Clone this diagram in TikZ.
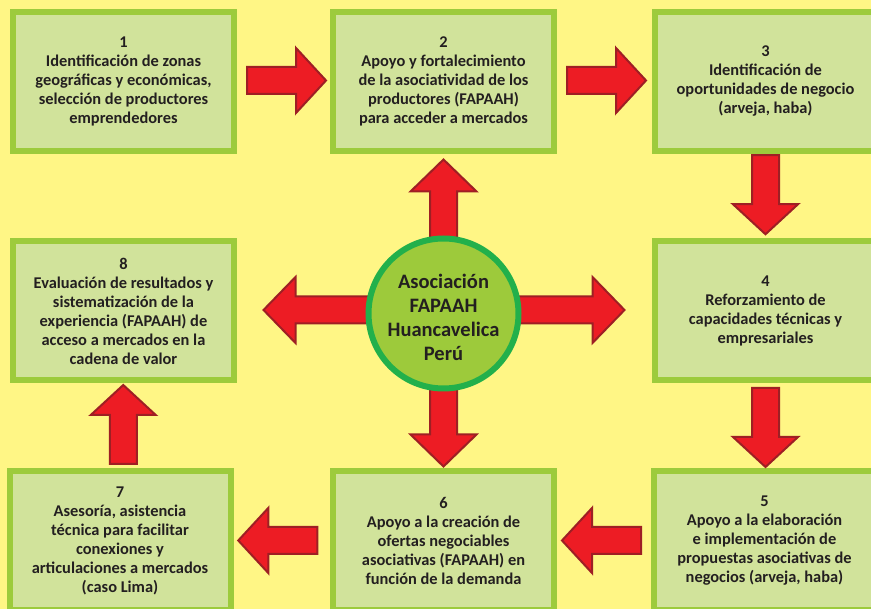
\documentclass[tikz,border=0pt]{standalone}
\usepackage{fontspec}
\setmainfont{Carlito}
\usetikzlibrary{calc}
\definecolor{bgy}{RGB}{255,246,133}
\definecolor{boxfill}{RGB}{209,227,155}
\definecolor{boxline}{RGB}{157,203,60}
\definecolor{cfill}{RGB}{157,202,59}
\definecolor{cline}{RGB}{34,176,75}
\definecolor{arrfill}{RGB}{237,28,36}
\definecolor{arrline}{RGB}{158,31,36}
\definecolor{txt}{RGB}{35,31,32}
\newcommand\blockarr[3]{%
  \begin{scope}[shift={#1}, rotate=#2]
    \draw[redarrow] ({-#3/2},-13.5) -- ({#3/2-30},-13.5) -- ({#3/2-30},-32.5) -- ({#3/2},0) -- ({#3/2-30},32.5) -- ({#3/2-30},13.5) -- ({-#3/2},13.5) -- cycle;
  \end{scope}}
\newcommand\centerarr[3]{%
  \begin{scope}[shift={#1}, rotate=#2]
    \draw[redarrow] (0,-13.5) -- ({#3-32},-13.5) -- ({#3-32},-33) -- ({#3},0) -- ({#3-32},33) -- ({#3-32},13.5) -- (0,13.5) -- cycle;
  \end{scope}}
\begin{document}
\begin{tikzpicture}[x=1pt,y=-1pt,
  box/.style={draw=boxline, line width=6pt, fill=boxfill, minimum width=221pt, minimum height=139pt,
    inner sep=0pt, outer sep=3pt, align=center, text=txt, font=\bfseries\fontsize{16.4}{19}\selectfont},
  hub/.style={circle, draw=cline, line width=6pt, fill=cfill, minimum size=150pt, inner sep=0pt},
  hubtext/.style={align=center, text=txt, inner sep=0pt, font=\bfseries\fontsize{20.5}{24}\selectfont},
  redarrow/.style={fill=arrfill, draw=arrline, line width=2pt, line join=miter}]
\fill[bgy] (0,0) rectangle (871,609);
\useasboundingbox (0,0) rectangle (871,609);

\node[box] (b1) at (123.5,81.5) {1\\Identificación de zonas\\geográficas y económicas,\\selección de productores\\emprendedores};
\node[box] (b2) at (443.5,81.5) {2\\Apoyo y fortalecimiento\\de la asociatividad de los\\productores (FAPAAH)\\para acceder a mercados};
\node[box] (b3) at (765.5,81.5) {3\\Identificación de\\oportunidades de negocio\\(arveja, haba)};
\node[box] (b4) at (765.5,311) {4\\Reforzamiento de\\capacidades técnicas y\\empresariales};
\node[box] (b5) at (764.5,541) {5\\Apoyo a la elaboración\\e implementación de\\propuestas asociativas de\\negocios (arveja, haba)};
\node[box] (b6) at (443.5,541) {6\\Apoyo a la creación de\\ofertas negociables\\asociativas (FAPAAH) en\\función de la demanda};
\node[box] (b7) at (120,541) {7\\Asesoría, asistencia\\técnica para facilitar\\conexiones y\\articulaciones a mercados\\(caso Lima)};
\node[box] (b8) at (123.5,311) {8\\Evaluación de resultados y\\sistematización de la\\experiencia (FAPAAH) de\\acceso a mercados en la\\cadena de valor};

\coordinate (m12) at ($(b1.east)!0.5!(b2.west)+(3,-1)$);
\coordinate (m23) at ($(b2.east)!0.5!(b3.west)+(2,-1)$);
\coordinate (m34) at ($(b3.south)!0.5!(b4.north)+(0,-1.5)$);
\coordinate (m45) at ($(b4.south)!0.5!(b5.north)+(0.5,1.5)$);
\coordinate (m56) at ($(b5.west)!0.5!(b6.east)+(-2.5,-0.5)$);
\coordinate (m67) at ($(b6.west)!0.5!(b7.east)+(-4,-0.5)$);
\coordinate (m78) at ($(b7.north)!0.5!(b8.south)+(1.5,-1.5)$);
\blockarr{(m12)}{0}{79}
\blockarr{(m23)}{0}{79}
\blockarr{(m34)}{-90}{79}
\blockarr{(m45)}{-90}{79}
\blockarr{(m56)}{180}{79}
\blockarr{(m67)}{180}{79}
\blockarr{(m78)}{90}{79}

\coordinate (cc) at (443.5,313.5);
\coordinate (ch) at (443.5,310);
\centerarr{(cc)}{90}{154}
\centerarr{(cc)}{-90}{153}
\centerarr{(ch)}{0}{181}
\centerarr{(ch)}{180}{180}
\node[hub] (c) at (cc) {};
\node[hubtext] (ct) at ($(c.center)+(0,4)$) {Asociación\\FAPAAH\\Huancavelica\\Perú};
\end{tikzpicture}
\end{document}
